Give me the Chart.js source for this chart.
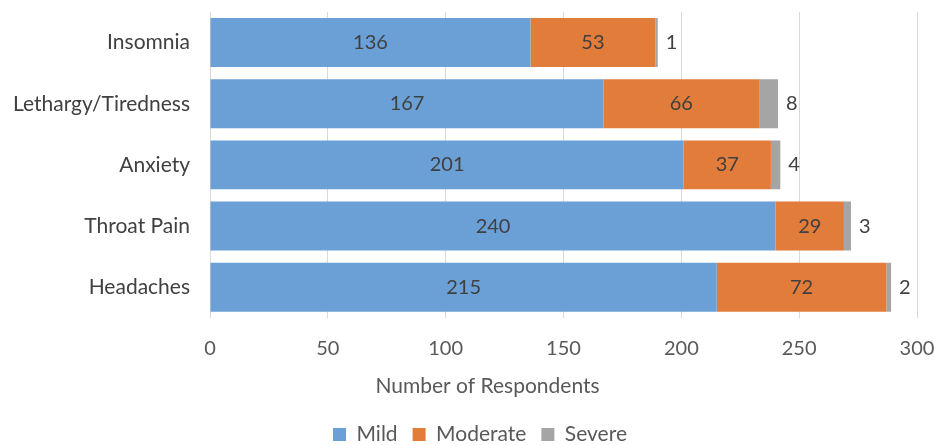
<!DOCTYPE html>
<html>
<head>
<meta charset="utf-8">
<script src="https://cdn.jsdelivr.net/npm/chart.js@4"></script>
<style>
html,body{margin:0;padding:0;background:#fff;}
#wrap{width:934px;height:445px;position:relative;}
</style>
</head>
<body>
<div id="wrap"><canvas id="c" width="934" height="445"></canvas></div>
<script>
const categories = ["Insomnia", "Lethargy/Tiredness", "Anxiety", "Throat Pain", "Headaches"];
const mild = [136, 167, 201, 240, 215];
const moderate = [53, 66, 37, 29, 72];
const severe = [1, 8, 4, 3, 2];
const seriesNames = ["Mild", "Moderate", "Severe"];
const xTitle = "Number of Respondents";

const FONT = "Lato, 'Open Sans', sans-serif";
const TXT = "#404040";

const labelPlugin = {
  id: 'barLabels',
  afterLayout(chart) {
    if (chart.legend) { chart.legend.left += 43; }
    const xs = chart.scales.x;
    if (xs && !xs._titleShifted) {
      const orig = xs.drawTitle;
      xs.drawTitle = function () {
        const l = this.left;
        this.left = l - 152;
        orig.call(this);
        this.left = l;
      };
      xs._titleShifted = true;
    }
  },
  afterDatasetsDraw(chart) {
    const ctx = chart.ctx;
    ctx.save();
    ctx.font = "20px " + FONT;
    ctx.fillStyle = TXT;
    ctx.textBaseline = 'middle';
    chart.data.datasets.forEach((ds, di) => {
      const meta = chart.getDatasetMeta(di);
      meta.data.forEach((el, i) => {
        const v = ds.data[i];
        if (di < 2) {
          ctx.textAlign = 'center';
          ctx.fillText(String(v), (el.x + el.base) / 2, el.y);
        } else {
          ctx.textAlign = 'left';
          ctx.fillText(String(v), el.x + 8, el.y);
        }
      });
    });
    ctx.restore();
  }
};

new Chart(document.getElementById('c'), {
  type: 'bar',
  data: {
    labels: categories,
    datasets: [
      { label: seriesNames[0], data: mild, backgroundColor: '#6aa0d6' },
      { label: seriesNames[1], data: moderate, backgroundColor: '#e27c3a' },
      { label: seriesNames[2], data: severe, backgroundColor: '#a5a5a5' }
    ]
  },
  options: {
    indexAxis: 'y',
    responsive: false,
    animation: false,
    devicePixelRatio: 1,
    layout: { padding: { top: 12, right: 17, left: 0, bottom: -10 } },
    datasets: { bar: { categoryPercentage: 1, barPercentage: 0.8 } },
    scales: {
      x: {
        stacked: true,
        min: 0, max: 300,
        ticks: { stepSize: 50, padding: 19, color: '#595959', font: { family: FONT, size: 20 } },
        grid: { color: '#d9d9d9', drawTicks: false, lineWidth: 1 },
        border: { display: false },
        title: { display: true, text: xTitle, color: '#595959', font: { family: FONT, size: 21 }, padding: { top: -6, bottom: 10 } },
        afterFit(scale) { scale.paddingLeft = 0; scale.paddingRight = 0; }
      },
      y: {
        stacked: true,
        ticks: { padding: 20, color: '#404040', font: { family: FONT, size: 21 } },
        grid: { display: false, drawTicks: false },
        border: { display: false },
        afterFit(scale) { scale.width = 210; scale.paddingTop = 0; scale.paddingBottom = 0; }
      }
    },
    plugins: {
      legend: {
        position: 'bottom',
        labels: { boxWidth: 13, boxHeight: 13, padding: 15, color: '#595959', font: { family: FONT, size: 21 } }
      },
      tooltip: { enabled: false }
    }
  },
  plugins: [labelPlugin]
});
</script>
</body>
</html>
